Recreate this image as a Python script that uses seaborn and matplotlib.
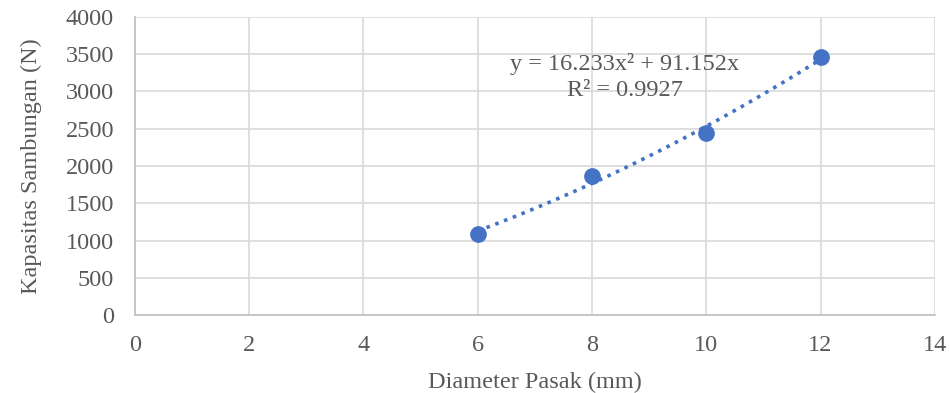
import numpy as np
import pandas as pd
import seaborn as sns
import matplotlib.pyplot as plt

# data
diameter = [6, 8, 10, 12]
kapasitas = [1095, 1865, 2440, 3460]
x_ticks = [0, 2, 4, 6, 8, 10, 12, 14]
y_ticks = [0, 500, 1000, 1500, 2000, 2500, 3000, 3500, 4000]
eq_label = 'y = 16.233x² + 91.152x\nR² = 0.9927'

blue = '#4472C4'
grey_text = '#595959'
grid_col = '#D9D9D9'
fs = 17.5

sns.set_theme(style='whitegrid')
plt.rcParams['font.family'] = ['Liberation Serif', 'DejaVu Serif']

df = pd.DataFrame({'d': diameter, 'P': kapasitas})

# quadratic trend without intercept (like excel's trendline with intercept = 0)
A = np.column_stack([df['d'] ** 2, df['d']])
coef, *_ = np.linalg.lstsq(A, df['P'], rcond=None)
xs = np.linspace(min(diameter), max(diameter), 60)
trend = pd.DataFrame({'d': xs, 'P': coef[0] * xs ** 2 + coef[1] * xs})

fig = plt.figure(figsize=(9.5, 3.93), dpi=100)
ax = fig.add_axes([0.142, 0.198, 0.842, 0.759])

sns.lineplot(data=trend, x='d', y='P', ax=ax, color=blue, linestyle=(0, (1, 1.6)),
             linewidth=2.6, zorder=2)
sns.scatterplot(data=df, x='d', y='P', ax=ax, color=blue, s=145, edgecolor=blue,
                linewidth=0, zorder=3)

ax.set_xlim(0, 14)
ax.set_ylim(0, 4000)
ax.set_xticks(x_ticks)
ax.set_yticks(y_ticks)
ax.grid(True, color=grid_col, linewidth=1.2)
for s in ['top', 'right']:
    ax.spines[s].set_visible(False)
for s in ['left', 'bottom']:
    ax.spines[s].set_color('#BFBFBF')
    ax.spines[s].set_linewidth(1.2)
ax.tick_params(axis='both', colors='#BFBFBF', length=5, width=1.2, direction='out',
               labelcolor=grey_text, labelsize=fs)
ax.tick_params(axis='y', pad=10)
ax.tick_params(axis='x', pad=9)

ax.set_xlabel('Diameter Pasak (mm)', fontsize=fs, color=grey_text, labelpad=12)
ax.set_ylabel('Kapasitas Sambungan (N)', fontsize=fs, color=grey_text, labelpad=17)

ax.text(8.575, 3190, eq_label, ha='center', va='center', fontsize=fs,
        color=grey_text, linespacing=1.3)

fig.savefig('out.png', dpi=100)
